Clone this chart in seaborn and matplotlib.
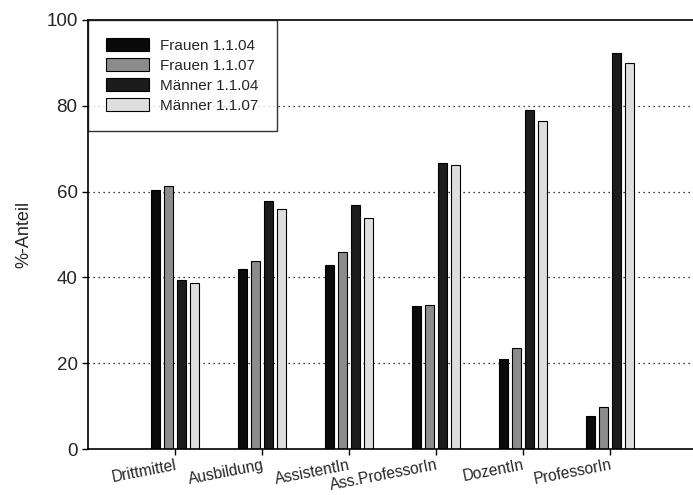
import pandas as pd
import seaborn as sns
import matplotlib.pyplot as plt

# Data
kategorien = ["Drittmittel", "Ausbildung", "AssistentIn", "Ass.ProfessorIn", "DozentIn", "ProfessorIn"]
frauen_04 = [60.4, 42.0, 43.0, 33.3, 21.0, 7.7]
frauen_07 = [61.2, 43.8, 45.9, 33.6, 23.6, 9.8]
maenner_04 = [39.5, 57.9, 56.9, 66.7, 79.0, 92.3]
maenner_07 = [38.8, 56.0, 53.9, 66.3, 76.4, 90.0]
serien = ["Frauen 1.1.04", "Frauen 1.1.07", "Männer 1.1.04", "Männer 1.1.07"]

rows = []
for name, werte in zip(serien, [frauen_04, frauen_07, maenner_04, maenner_07]):
    for k, v in zip(kategorien, werte):
        rows.append({"Kategorie": k, "Gruppe": name, "Anteil": v})
df = pd.DataFrame(rows)

sns.set_style("white")
plt.rcParams["font.family"] = ["Liberation Sans", "DejaVu Sans"]

fig = plt.figure(figsize=(6.93, 4.95), dpi=100)
ax = fig.add_axes([88 / 693, 46 / 495, 609 / 693, 429 / 495])

palette = ["#0a0a0a", "#8c8c8c", "#1c1c1c", "#dedede"]
sns.barplot(data=df, x="Kategorie", y="Anteil", hue="Gruppe", hue_order=serien,
            palette=palette, width=0.6, gap=0.3, edgecolor="black", linewidth=0.8,
            saturation=1, ax=ax)

ax.set_xlim(-1, 6)
ax.set_ylim(0, 100)
ax.set_yticks([0, 20, 40, 60, 80, 100])
for y in [20, 40, 60, 80]:
    ax.axhline(y, color="black", linestyle=(0, (1, 3)), linewidth=0.9, zorder=0)

ax.set_xlabel("")
ax.set_ylabel("%-Anteil", fontsize=13, labelpad=10)
ax.tick_params(axis="both", direction="out", length=4, width=1, color="black",
               bottom=True, left=True, labelsize=13.5)
ax.tick_params(axis="x", pad=2)
plt.setp(ax.get_xticklabels(), rotation=11, ha="right", rotation_mode="anchor", fontsize=11.2)

for side in ["left", "bottom", "top"]:
    ax.spines[side].set_color("black")
    ax.spines[side].set_linewidth(1.2)
ax.spines["right"].set_visible(False)

leg = ax.legend(loc="upper left", borderaxespad=0, fontsize=11, frameon=True,
                fancybox=False, handlelength=2.8, handleheight=0.9,
                borderpad=1.2, labelspacing=0.35, handletextpad=0.7)
leg.get_frame().set_edgecolor("black")
leg.get_frame().set_linewidth(1.0)

plt.savefig("out.png", dpi=100)
plt.close()
